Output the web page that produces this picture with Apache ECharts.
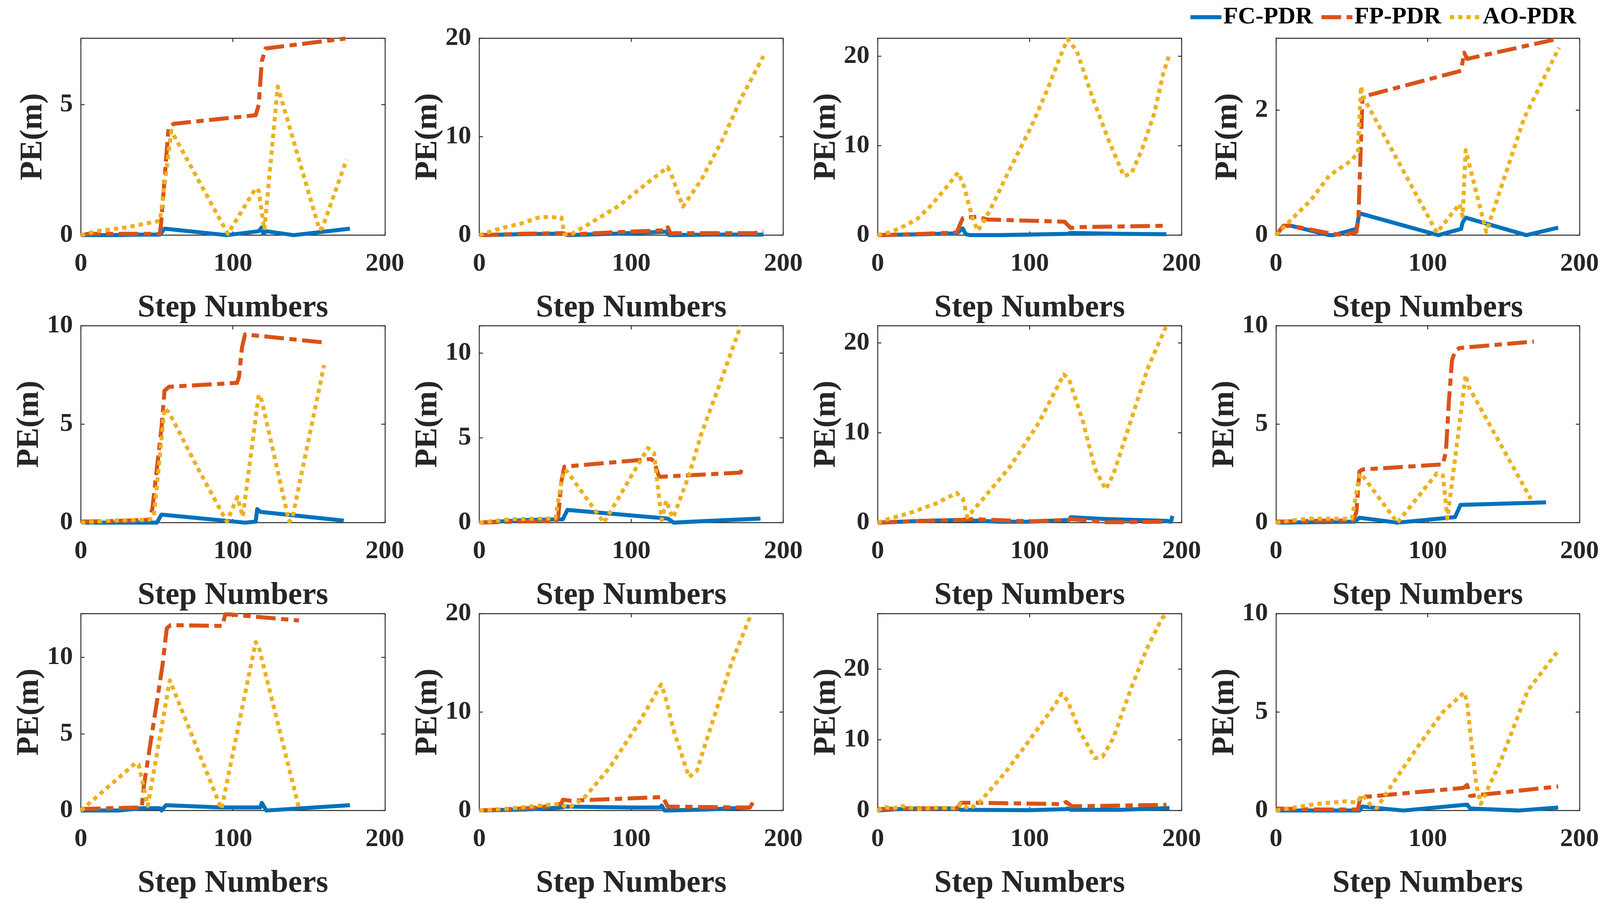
<!DOCTYPE html>
<html><head><meta charset="utf-8">
<script src="https://cdn.jsdelivr.net/npm/echarts@6/dist/echarts.min.js"></script>
<style>html,body{margin:0;padding:0;background:#fff;overflow:hidden}#c{width:100vw;height:100vh}</style>
</head><body><div id="c"></div>
<script>
// ---------- data (step number, PE in m) ----------
const seriesNames = ['FC-PDR', 'FP-PDR', 'AO-PDR'];
const xTicks = [0, 100, 200];

const fc1 = [[0,0],[20,0],[40,0.02],[52,0.02],[55,0.25],[96,0],[117,0.15],[119,0.3],[120,0.05],[122,0.15],[140,0],[177,0.25]];
const fp1 = [[0,0],[5,0.05],[52,0.05],[53,0.6],[56,2.9],[57.7,4.1],[61,4.27],[115,4.6],[117,5.0],[119,6.66],[121.5,7.16],[174,7.54]];
const ao1 = [[0,0],[10,0.15],[30,0.3],[52,0.55],[59.5,4.0],[96.7,0.05],[115,1.8],[117,1.7],[120.7,0.2],[129.5,5.7],[157,0.2],[159,0.3],[174.8,2.9]];

const fc2 = [[0,0],[30,0.1],[55,0.15],[58,0],[90,0.15],[123,0.35],[125,0],[150,0.05],[187,0.05]];
const fp2 = [[0,0],[30,0.15],[55,0.2],[58,0.05],[90,0.3],[123,0.5],[124,0.8],[126,0.1],[128,0.2],[180,0.2],[187,0.35]];
const ao2 = [[0,0],[14,0.7],[28,1.2],[40,1.85],[54,1.8],[56,0.1],[60,0.05],[73,1.2],[92,3.0],[113,5.6],[124,6.9],[127,5.9],[134,2.9],[146,5.6],[160,9.7],[173,14.1],[187,18.2]];

const fc3 = [[0,0],[30,0.1],[52,0.2],[56,0.75],[58,0.1],[61,0],[80,0],[125,0.15],[127,0.25],[160,0.15],[190,0.1]];
const fp3 = [[0,0],[30,0.15],[52,0.3],[56,1.9],[60,2.0],[66,2.05],[72,1.75],[123,1.5],[127,0.8],[133,0.9],[189,1.05]];
const ao3 = [[0,0],[8,0.3],[15,0.8],[26,1.8],[35,3.3],[44,5.1],[53,7.0],[57,5.4],[60,3.4],[63,1.6],[66,0.5],[74,2.8],[85,6.7],[101,12.1],[112,16.4],[120,19.9],[125,21.9],[131,20.6],[142,15.1],[152,10.6],[162,6.6],[167,6.9],[174,9.6],[182,13.6],[188,18.1],[192,20.2]];

const fc4 = [[0,0],[5,0.15],[10,0.15],[35,0],[38,0],[53,0.1],[55,0.35],[107,0],[122,0.1],[123,0.2],[125,0.28],[165,0],[186,0.12]];
const fp4 = [[0,0],[5,0.15],[10,0.15],[35,0.03],[45,0],[53,0.05],[54.3,0.25],[56,1.5],[57,2.19],[58,2.22],[122,2.63],[124,2.92],[126,2.82],[185.6,3.14]];
const ao4 = [[0,0],[8,0.2],[23,0.56],[35,0.95],[50,1.2],[54,1.33],[56,2.38],[58,2.19],[106,0.04],[121,0.5],[123,0.3],[125,1.36],[138.6,0.05],[163.5,1.87],[186.6,3.0]];

const fc5 = [[0,0],[30,0],[50,0],[53,0.41],[108,0],[115,0.05],[116,0.69],[118,0.55],[173,0.1]];
const fp5 = [[0,0.05],[30,0.1],[45,0.15],[47,0.7],[50,2.75],[53,4.8],[55,6.7],[58,6.9],[102.7,7.1],[104,7.4],[106,8.9],[108,9.56],[160,9.15]];
const ao5 = [[0,0],[20,0.1],[45,0.15],[48,0.3],[55,5.8],[58,5.6],[77,2.75],[96,0.05],[103,1.3],[106.5,0.3],[117,6.5],[119,6.2],[137,0.05],[139,0.2],[160,8.0]];

const fc6 = [[0,0],[30,0.15],[55,0.2],[58,0.75],[124,0.24],[128,0],[150,0.1],[185,0.24]];
const fp6 = [[0,0],[30,0.08],[50,0.08],[52,0.4],[54,2.4],[56,3.3],[113,3.75],[115,3.6],[118,2.8],[119,2.7],[172,2.95],[173,3.3]];
const ao6 = [[0,0],[20,0.2],[50,0.25],[54,2.4],[56,3.1],[58,3.0],[82,0],[111,4.4],[115,4.1],[120,0.15],[123,1.3],[127,0.3],[128,0.4],[138,2.8],[146,5.2],[160,8.6],[172,11.6]];

const fc7 = [[0,0],[30,0.2],[55,0.3],[80,0.1],[100,0.1],[126,0.3],[127,0.6],[150,0.4],[190,0.2],[193,0.1],[194,0.75]];
const fp7 = [[0,0],[30,0.2],[55,0.3],[60,0.4],[100,0.15],[125,0.3],[127,0.4],[150,0.05],[190,0.1]];
const ao7 = [[0,0],[5,0.3],[20.6,1.05],[38,2.1],[52,3.3],[56,2.7],[59,0.6],[69.6,2.7],[87,6.2],[106,11.1],[122.5,16.5],[126,15.9],[135,11.3],[143,6.0],[150,3.7],[155,5.3],[165,10.5],[178,17.3],[190,21.9]];

const fc8 = [[0,0],[52,0.05],[55,0.25],[80,0],[118,0.28],[121.6,0.9],[178,1.03]];
const fp8 = [[0,0.05],[30,0.1],[51,0.1],[53,0.55],[55,2.6],[57,2.7],[110,2.96],[112,3.6],[114,6.2],[116,8.25],[118,8.7],[121,8.87],[170,9.2]];
const ao8 = [[0,0],[20,0.2],[50,0.2],[55,2.4],[56,2.5],[80,0],[106,2.5],[110,2.4],[113,0.2],[125,7.5],[127,6.9],[168,1.2]];

const fc9 = [[0,0],[25,0],[40,0.15],[52,0.15],[53,0],[56,0.35],[92,0.2],[118,0.2],[119,0.5],[122,0],[177,0.35]];
const fp9 = [[0,0.1],[40,0.2],[41.5,1.65],[45.6,4.3],[49.7,6.9],[53.7,9.5],[56.5,11.9],[59,12.1],[93,12.05],[95,12.8],[98,12.8],[143.5,12.4]];
const ao9 = [[0,0],[36,3.1],[38,3.0],[44,0.3],[58.5,8.5],[92.5,0.1],[115,11.0],[117,10.7],[143.5,0.15]];

const fc10 = [[0,0],[30,0.1],[54,0.3],[57,0.4],[100,0.3],[119,0.3],[120,0.5],[122,0],[150,0.1],[178,0.3]];
const fp10 = [[0,0],[40,0.3],[54,0.7],[55,1.1],[60,1.0],[119,1.35],[121,1.3],[124,0.4],[178,0.3],[180,0.8]];
const ao10 = [[0,0],[20,0.2],[40,0.5],[54,0.7],[57,0.3],[60,0.4],[68.6,1.2],[86,4.4],[105,8.9],[119.6,12.8],[122,11.8],[128,8.1],[138,3.4],[143,4.0],[153,8.8],[166,15.0],[179,20]];

const fc11 = [[0,0],[20,0.3],[52,0.3],[55,0.1],[100,0.05],[124,0.2],[125,0.3],[127,0.1],[160,0.1],[192,0.35]];
const fp11 = [[0,0.2],[20,0.3],[52,0.3],[55,1.1],[66,1.1],[122,0.9],[124,1.2],[128,0.6],[190,0.8]];
const ao11 = [[0,0],[5,0.5],[10,0.2],[15,0.7],[25,0.2],[40,0.4],[52,0.3],[55,1.0],[60,0.2],[66.8,1.1],[84.5,5.5],[100.8,10.2],[117,15],[121,16.5],[125,15.5],[133,11.2],[143,7.4],[148,7.6],[155,10.2],[167,17.4],[177,22.8],[187,27.1],[190,27.8]];

const fc12 = [[0,0],[30,0],[55,0],[57,0.2],[63,0.15],[84,0],[126,0.3],[128,0.1],[160,0],[186,0.15]];
const fp12 = [[0,0.1],[30,0.05],[54,0.05],[56,0.8],[60,0.7],[123.6,1.15],[126,1.3],[128,0.74],[186,1.22]];
const ao12 = [[0,0],[26,0.33],[46,0.47],[53,0.4],[57,0.8],[62.5,0.26],[66.5,0.12],[75,1.15],[94,3.3],[110,5.0],[124,6.0],[126,5.5],[128,4.0],[132,1.3],[135,0.33],[148,2.5],[166,6.1],[185.5,8.07]];

// y-axis limits and tick steps per panel
const yMax  = [7.55, 20, 22, 3.15, 10, 11.6, 21.9, 10, 12.85, 20, 27.8, 10];
const yStep = [5, 10, 10, 2, 5, 5, 10, 5, 5, 10, 10, 5];

const panelData = [
  [fc1, fp1, ao1], [fc2, fp2, ao2], [fc3, fp3, ao3], [fc4, fp4, ao4],
  [fc5, fp5, ao5], [fc6, fp6, ao6], [fc7, fp7, ao7], [fc8, fp8, ao8],
  [fc9, fp9, ao9], [fc10, fp10, ao10], [fc11, fp11, ao11], [fc12, fp12, ao12]
];

// ---------- layout & style (designed for 4390x2322, scaled to the viewport) ----------
const vw = window.innerWidth || 4390, vh = window.innerHeight || 2322;
const sx = vw / 4390, sy = vh / 2322, s = Math.min(sx, sy);
const colLeft = [222, 1315, 2408, 3501];
const rowTop = [98, 834, 1571];
const W = 834, H = 504;
const FONT = '"Liberation Serif", "Times New Roman", serif';
const AX = '#262626';
const colors = ['#0072BD', '#D95319', '#EDB120'];
const dashes = ['solid', [54 * s, 15 * s, 20 * s, 15 * s], [12 * s, 11 * s]];
const LW = 11 * s;

const grid = [], xAxis = [], yAxis = [], series = [];
panelData.forEach((triple, i) => {
  const r = Math.floor(i / 4), c = i % 4;
  grid.push({ left: colLeft[c] * sx, top: rowTop[r] * sy, width: W * sx, height: H * sy });
  const line = { show: true, onZero: false, lineStyle: { color: AX, width: 2.5 * s } };
  const tick = { show: true, inside: true, length: 10 * s, lineStyle: { color: AX, width: 2.5 * s } };
  const xc = { type: 'value', gridIndex: i, min: xTicks[0], max: xTicks[xTicks.length - 1],
    interval: xTicks[1] - xTicks[0], splitLine: { show: false }, axisLine: line, axisTick: tick };
  xAxis.push(Object.assign({}, xc, {
    position: 'bottom', name: 'Step Numbers', nameLocation: 'middle', nameGap: 147 * sy,
    nameTextStyle: { fontFamily: FONT, fontWeight: 'bold', fontSize: 86 * s, color: AX },
    axisLabel: { margin: 41 * sy, fontFamily: FONT, fontWeight: 'bold', fontSize: 71 * s, color: AX }
  }));
  xAxis.push(Object.assign({}, xc, { position: 'top', axisLabel: { show: false } }));
  const step = yStep[i];
  const yc = { type: 'value', gridIndex: i, min: 0, max: yMax[i], interval: step,
    splitLine: { show: false }, axisLine: line, axisTick: tick };
  yAxis.push(Object.assign({}, yc, {
    position: 'left', name: 'PE(m)', nameLocation: 'middle', nameGap: 88 * sx, nameRotate: 90,
    nameTextStyle: { fontFamily: FONT, fontWeight: 'bold', fontSize: 86 * s, color: AX },
    axisLabel: { margin: 22 * sx, fontFamily: FONT, fontWeight: 'bold', fontSize: 71 * s, color: AX,
      formatter: v => (Math.abs(v / step - Math.round(v / step)) < 1e-6 ? String(Math.round(v)) : '') }
  }));
  yAxis.push(Object.assign({}, yc, { position: 'right', axisLabel: { show: false } }));
  triple.forEach((data, k) => {
    series.push({
      name: seriesNames[k], type: 'line', data: data,
      xAxisIndex: 2 * i, yAxisIndex: 2 * i,
      symbol: 'none', showSymbol: false, clip: true, z: 2 + k,
      lineStyle: { color: colors[k], width: LW, type: dashes[k], cap: 'butt', join: 'round' },
      itemStyle: { color: colors[k] }
    });
  });
});

const chart = echarts.init(document.getElementById('c'));
chart.setOption({
  animation: false,
  backgroundColor: '#fff',
  legend: {
    data: seriesNames, right: 60 * sx, top: 8 * sy, itemWidth: 85 * s, itemHeight: 14 * s, itemGap: 18 * s,
    lineStyle: { width: LW, cap: 'butt' },
    itemStyle: { opacity: 0 },
    textStyle: { fontFamily: FONT, fontWeight: 'bold', fontSize: 66 * s, color: '#000' }
  },
  grid, xAxis, yAxis, series
});
</script></body></html>
